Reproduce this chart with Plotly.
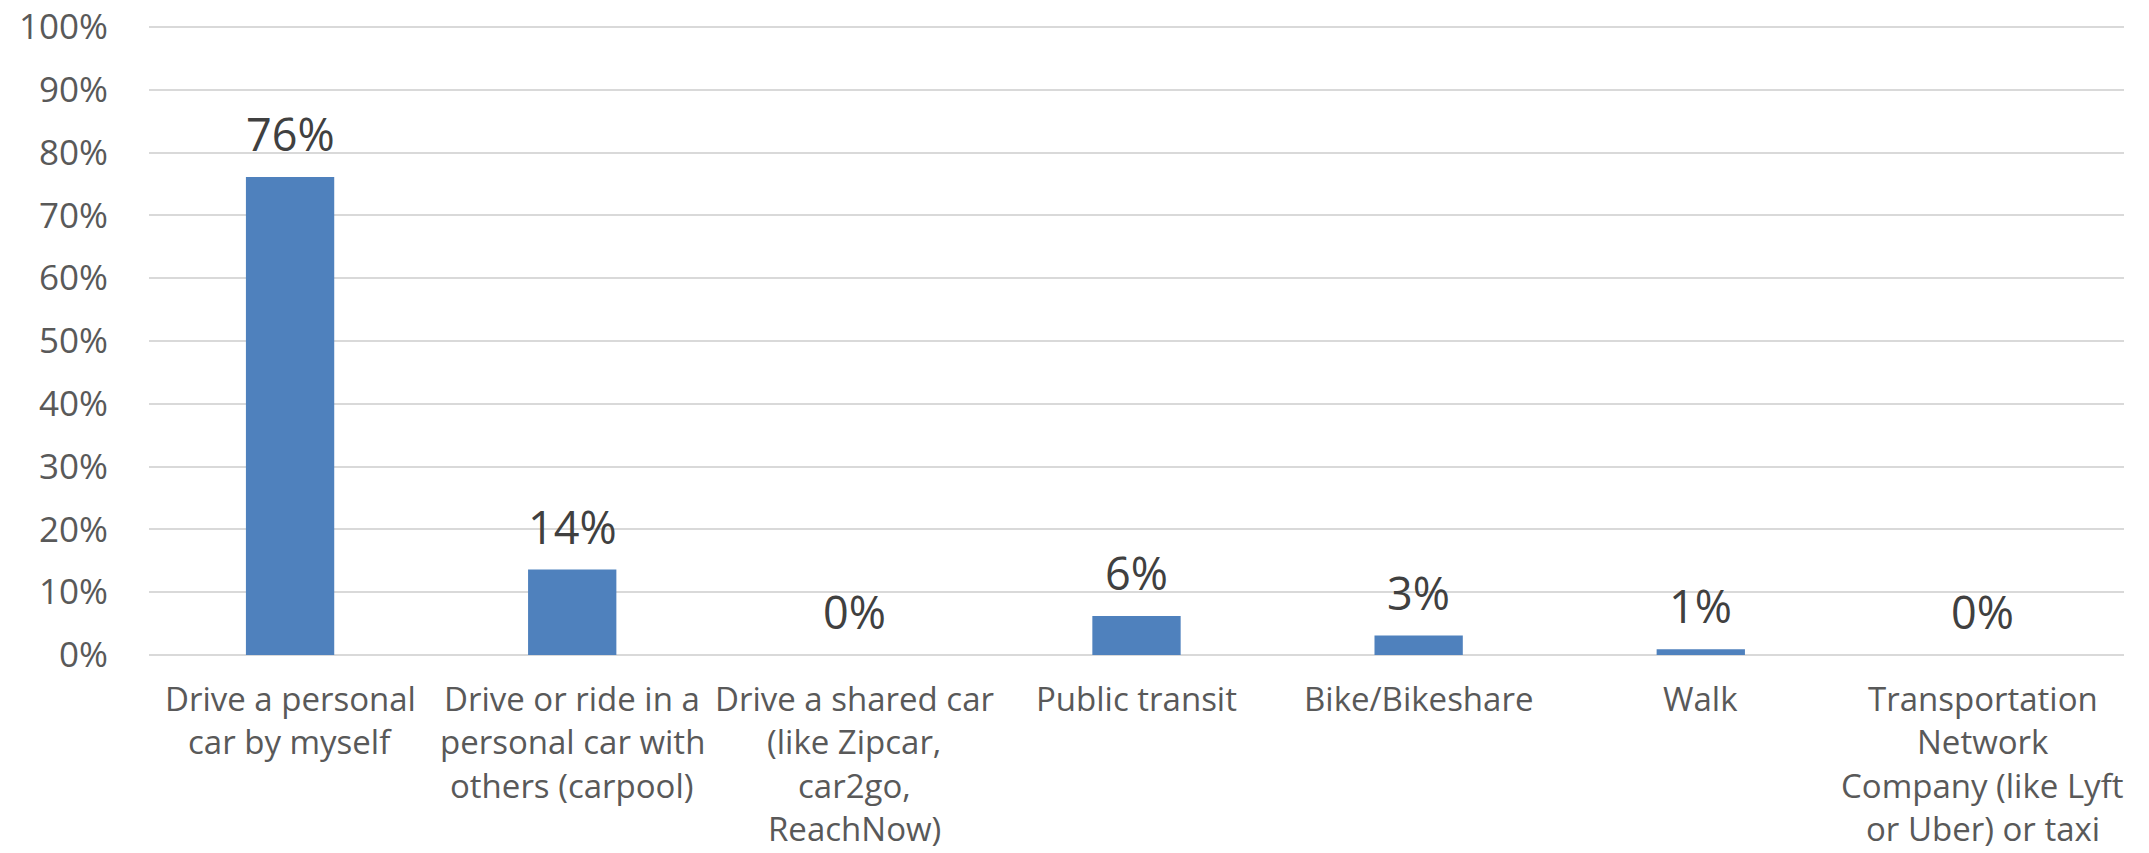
import plotly.graph_objects as go

categories = [
    "Drive a personal<br>car by myself",
    "Drive or ride in a<br>personal car with<br>others (carpool)",
    "Drive a shared car<br>(like Zipcar,<br>car2go,<br>ReachNow)",
    "Public transit",
    "Bike/Bikeshare",
    "Walk",
    "Transportation<br>Network<br>Company (like Lyft<br>or Uber) or taxi",
]
shares = [0.761, 0.136, 0.0, 0.062, 0.031, 0.009, 0.0]
y_ticks = [i / 10 for i in range(11)]

FONT = "Open Sans"

fig = go.Figure()
fig.add_trace(go.Bar(
    x=list(range(len(categories))),
    y=shares,
    marker=dict(color="#4f81bd", line=dict(width=0)),
    hoverinfo="skip",
))

# data labels
for i, v in enumerate(shares):
    fig.add_annotation(
        x=i, y=v, xref="x", yref="y",
        text=f"{round(v * 100):.0f}%",
        showarrow=False, yanchor="bottom", xanchor="center",
        yshift=11,
        font=dict(family=FONT, size=45, color="#404040"),
    )

# category labels (one annotation per line to match line spacing)
for i, lab in enumerate(categories):
    for k, line in enumerate(lab.split("<br>")):
        fig.add_annotation(
            x=i, y=0, xref="x", yref="y",
            text=line, showarrow=False,
            xanchor="center", yanchor="middle",
            yshift=-(43 + 43.5 * k),
            font=dict(family=FONT, size=33, color="#595959"),
        )

fig.update_layout(
    width=2149, height=853,
    margin=dict(l=149, r=25, t=25, b=198, autoexpand=False),
    plot_bgcolor="white", paper_bgcolor="white",
    bargap=0.687,
    showlegend=False,
    xaxis=dict(
        range=[-0.5, len(categories) - 0.5],
        showgrid=False, zeroline=False, showline=False,
        ticks="", showticklabels=False,
    ),
    yaxis=dict(
        range=[0, 1.003],
        tickvals=y_ticks,
        tickformat=".0%",
        showgrid=True, gridcolor="#d9d9d9", gridwidth=2,
        zeroline=True, zerolinecolor="#d9d9d9", zerolinewidth=2,
        showline=False, ticks="",
        ticklabelstandoff=40,
        ticklabeloverflow="allow",
        tickfont=dict(family=FONT, size=35, color="#595959"),
    ),
)

fig.write_html(
    "out.html",
    config={"displayModeBar": False},
    post_script="document.body.style.margin='0';",
)
